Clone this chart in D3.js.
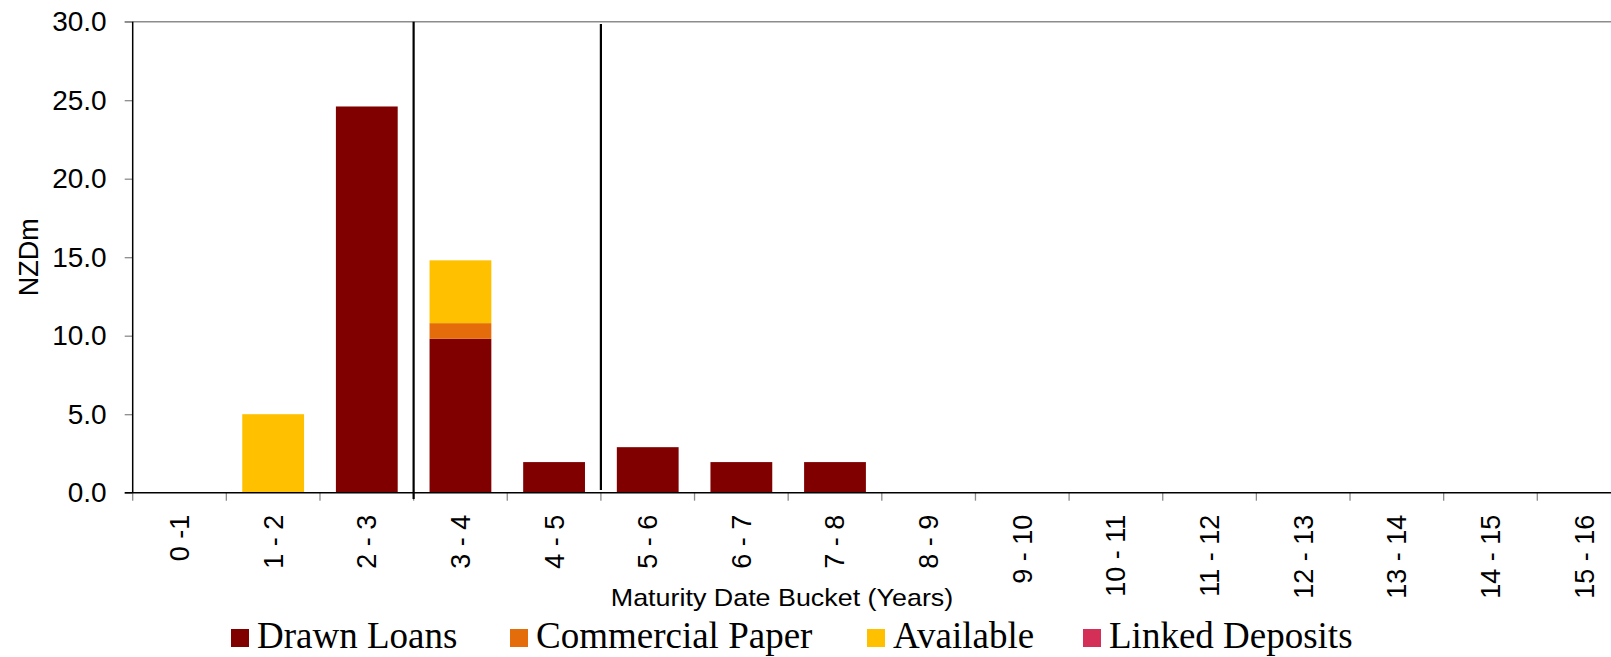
<!DOCTYPE html>
<html>
<head>
<meta charset="utf-8">
<script src="https://cdn.jsdelivr.net/npm/d3@7"></script>
<style>
  body { margin: 0; background: #fff; overflow: hidden; }
  svg { display: block; }
</style>
</head>
<body>
<div id="chart"></div>
<script>
// data
var buckets = ["0 -1", "1 - 2", "2 - 3", "3 - 4", "4 - 5", "5 - 6", "6 - 7", "7 - 8",
               "8 - 9", "9 - 10", "10 - 11", "11 - 12", "12 - 13", "13 - 14", "14 - 15", "15 - 16"];
var seriesNames = ["Drawn Loans", "Commercial Paper", "Available", "Linked Deposits"];
var seriesColors = ["#800000", "#e46c0a", "#ffc000", "#d42f56"];
var drawnLoans      = [0, 0, 24.6, 9.8, 1.95, 2.9, 1.95, 1.95, 0, 0, 0, 0, 0, 0, 0, 0];
var commercialPaper = [0, 0, 0, 1.0, 0, 0, 0, 0, 0, 0, 0, 0, 0, 0, 0, 0];
var available       = [0, 5.0, 0, 4.0, 0, 0, 0, 0, 0, 0, 0, 0, 0, 0, 0, 0];
var linkedDeposits  = [0, 0, 0, 0, 0, 0, 0, 0, 0, 0, 0, 0, 0, 0, 0, 0];
var yTicks = [0, 5, 10, 15, 20, 25, 30];
// vertical marker lines at bucket boundaries (years), with their extents in NZDm
var markerYears  = [3, 5];
var markerTop    = [30.0, 29.85];
var markerBottom = [-0.4, 0.17];

var W = 1611, H = 657;
var margin = {top: 21.7, left: 132.7};
var step = 93.64;
var plotW = step * buckets.length,
    plotH = 471;

var svg = d3.select("#chart")
    .append("svg")
    .attr("width", W)
    .attr("height", H);

var g = svg.append("g")
    .attr("transform", "translate(" + margin.left + "," + margin.top + ")");

// scales
var x = d3.scaleBand().domain(buckets).range([0, plotW]).paddingInner(0.34).paddingOuter(0.17);
var y = d3.scaleLinear().domain([0, 30]).range([plotH, 0]);

// stack table built from the arrays
var table = buckets.map(function(b, i) {
    return {
        bucket: b,
        "Drawn Loans": drawnLoans[i],
        "Commercial Paper": commercialPaper[i],
        "Available": available[i],
        "Linked Deposits": linkedDeposits[i]
    };
});
var stacked = d3.stack().keys(seriesNames)(table);

// top border line at 30
g.append("line")
    .attr("x1", -8).attr("x2", W)
    .attr("y1", y(30)).attr("y2", y(30))
    .attr("stroke", "#8c8c8c").attr("stroke-width", 1.5);

// bars
g.selectAll(".series")
    .data(stacked)
    .enter().append("g")
    .attr("class", "series")
    .attr("fill", function(d, i) { return seriesColors[i]; })
    .selectAll("rect")
    .data(function(d) { return d.filter(function(p) { return p[1] - p[0] > 0; }); })
    .enter().append("rect")
    .attr("x", function(d) { return x(d.data.bucket); })
    .attr("width", x.bandwidth())
    .attr("y", function(d) { return y(d[1]); })
    .attr("height", function(d) { return y(d[0]) - y(d[1]); });

// y axis
var yAxis = g.append("g")
    .call(d3.axisLeft(y).tickValues(yTicks).tickFormat(d3.format(".1f")).tickSize(8).tickPadding(18));
yAxis.select(".domain").remove();
yAxis.selectAll(".tick line").attr("stroke", "#8c8c8c").attr("stroke-width", 1.3);
yAxis.selectAll(".tick text")
    .attr("font-family", "Liberation Sans, Arial, sans-serif")
    .attr("font-size", 28)
    .attr("fill", "#000");

g.append("line")
    .attr("x1", 0).attr("x2", 0)
    .attr("y1", y(30)).attr("y2", y(0))
    .attr("stroke", "#000").attr("stroke-width", 1.5);

// x axis: ticks at bucket boundaries
var boundaries = d3.range(buckets.length + 1);
g.selectAll(".xtick")
    .data(boundaries)
    .enter().append("line")
    .attr("class", "xtick")
    .attr("x1", function(d) { return d * x.step(); })
    .attr("x2", function(d) { return d * x.step(); })
    .attr("y1", y(0)).attr("y2", y(0) + 8)
    .attr("stroke", "#8c8c8c").attr("stroke-width", 1.3);

g.append("line")
    .attr("x1", -8).attr("x2", W)
    .attr("y1", y(0)).attr("y2", y(0))
    .attr("stroke", "#000").attr("stroke-width", 1.5);

g.selectAll(".xlabel")
    .data(buckets)
    .enter().append("text")
    .attr("class", "xlabel")
    .attr("transform", function(d) {
        return "translate(" + (x(d) + x.bandwidth() / 2) + "," + (y(0) + 22) + ") rotate(-90)";
    })
    .attr("dy", "0.35em")
    .attr("text-anchor", "end")
    .attr("font-family", "Liberation Sans, Arial, sans-serif")
    .attr("font-size", 27)
    .text(function(d) { return d; });

// marker lines
g.selectAll(".marker")
    .data(markerYears)
    .enter().append("line")
    .attr("class", "marker")
    .attr("x1", function(d) { return d * x.step(); })
    .attr("x2", function(d) { return d * x.step(); })
    .attr("y1", function(d, i) { return y(markerTop[i]); })
    .attr("y2", function(d, i) { return y(markerBottom[i]); })
    .attr("stroke", "#000").attr("stroke-width", 2.2);

// axis titles
svg.append("text")
    .attr("transform", "translate(29," + (margin.top + plotH / 2) + ") rotate(-90)")
    .attr("dy", "0.35em")
    .attr("text-anchor", "middle")
    .attr("font-family", "Liberation Sans, Arial, sans-serif")
    .attr("font-size", 27)
    .text("NZDm");

svg.append("text")
    .attr("transform", "translate(782,606) scale(1.12,1)")
    .attr("text-anchor", "middle")
    .attr("font-family", "Liberation Sans, Arial, sans-serif")
    .attr("font-size", 24)
    .text("Maturity Date Bucket (Years)");

// legend
var legendX = [231, 510, 867, 1083];
var legend = svg.selectAll(".legend")
    .data(seriesNames)
    .enter().append("g")
    .attr("class", "legend")
    .attr("transform", function(d, i) { return "translate(" + legendX[i] + ",629)"; });

legend.append("rect")
    .attr("width", 18).attr("height", 18)
    .attr("fill", function(d, i) { return seriesColors[i]; });

legend.append("text")
    .attr("x", 26)
    .attr("y", 18.5)
    .attr("font-family", "Liberation Serif, Times New Roman, serif")
    .attr("font-size", 37)
    .text(function(d) { return d; });
</script>
</body>
</html>
